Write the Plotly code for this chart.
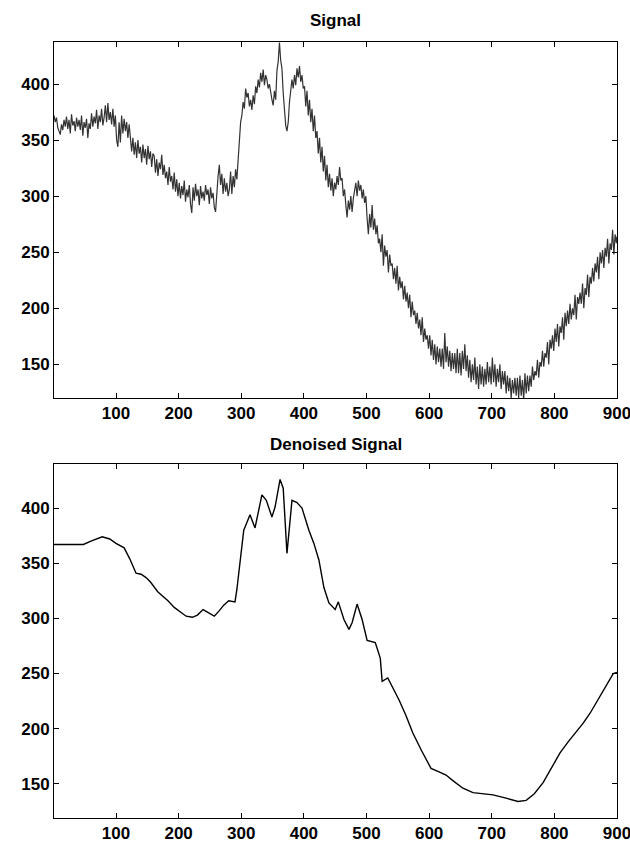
import plotly.graph_objects as go
from plotly.subplots import make_subplots

# ---------------- data ----------------
# noisy signal, every 2 samples (x = 1, 3, ..., 899) plus the last sample
signal_x = list(range(1, 900, 2)) + [900]
signal_y = [
    # 1 - 99
    372, 366, 370, 361, 358, 355, 364, 359, 368, 362,
    371, 360, 368, 356, 373, 363, 367, 358, 370, 362,
    368, 359, 372, 354, 366, 361, 369, 352, 365, 360,
    374, 362, 371, 365, 377, 360, 372, 366, 378, 363,
    370, 381, 366, 383, 368, 375, 364, 378, 362, 372,
    # 101 - 199
    350, 344, 366, 348, 372, 356, 369, 358, 366, 352,
    364, 348, 340, 352, 337, 348, 334, 350, 338, 344,
    330, 346, 334, 342, 328, 345, 333, 340, 326, 338,
    336, 321, 333, 318, 330, 324, 337, 319, 328, 316,
    322, 310, 326, 313, 318, 306, 321, 304, 315, 300,
    # 201 - 299
    312, 298, 309, 301, 314, 295, 306, 299, 310, 293,
    285, 308, 296, 311, 300, 306, 292, 309, 298, 304,
    296, 310, 301, 306, 293, 308, 298, 303, 290, 286,
    305, 318, 328, 310, 320, 302, 316, 304, 312, 300,
    306, 322, 302, 318, 308, 324, 315, 336, 352, 366,
    # 301 - 399
    372, 384, 378, 396, 388, 392, 380, 386, 377, 390,
    382, 398, 392, 404, 397, 410, 402, 413, 399, 408,
    404, 396, 400, 390, 386, 381, 394, 386, 412, 420,
    437, 421, 414, 392, 372, 363, 358, 366, 384, 394,
    404, 396, 408, 399, 414, 406, 416, 402, 408, 396,
    # 401 - 499
    398, 380, 394, 372, 386, 366, 378, 358, 372, 352,
    358, 338, 352, 330, 344, 322, 336, 314, 328, 308,
    320, 305, 316, 300, 312, 306, 318, 310, 326, 314,
    316, 300, 306, 292, 281, 296, 288, 300, 286, 298,
    304, 312, 300, 314, 305, 310, 298, 306, 294, 300,
    # 501 - 599
    280, 266, 284, 272, 292, 270, 280, 266, 274, 258,
    262, 250, 266, 238, 256, 246, 252, 232, 248, 238,
    240, 226, 236, 222, 238, 216, 228, 218, 224, 208,
    220, 206, 214, 200, 212, 192, 206, 194, 198, 186,
    196, 182, 190, 176, 192, 170, 182, 172, 176, 164,
    # 601 - 699
    176, 158, 172, 154, 168, 150, 166, 152, 164, 148,
    164, 146, 178, 152, 166, 148, 162, 144, 160, 146,
    160, 142, 164, 142, 160, 140, 162, 146, 168, 144,
    158, 138, 154, 134, 150, 136, 156, 132, 148, 128,
    150, 132, 148, 130, 146, 132, 152, 134, 148, 132,
    # 701 - 799
    156, 134, 150, 130, 146, 134, 150, 128, 144, 132,
    144, 124, 140, 126, 138, 120, 136, 124, 138, 122,
    138, 120, 140, 122, 136, 118, 142, 124, 140, 126,
    140, 130, 148, 136, 144, 140, 154, 138, 152, 148,
    162, 148, 160, 156, 170, 150, 172, 164, 176, 162,
    # 801 - 899
    182, 170, 186, 166, 184, 178, 192, 172, 196, 184,
    198, 186, 204, 190, 200, 194, 212, 190, 210, 204,
    214, 204, 222, 200, 218, 212, 230, 210, 228, 222,
    236, 224, 240, 232, 246, 226, 250, 240, 252, 236,
    254, 246, 262, 240, 258, 252, 270, 248, 266, 258,
    # 900
    264,
]

# denoised signal
denoised_x = [
    1, 10, 20, 30, 40, 48, 60, 70, 78, 90, 100, 113, 122, 132, 140, 148, 155, 167, 175, 183, 193,
    204, 212, 222, 230, 239, 248, 257, 265, 272, 280, 290, 293, 298, 304, 314, 322, 333, 340, 349, 354,
    362, 367, 373, 381, 389, 397, 408, 416, 424, 432, 440, 450, 455, 464, 472, 477, 485, 493, 501, 514,
    522, 525, 534, 543, 552, 563, 574, 588, 603, 615, 627, 640, 654, 670, 686, 702, 723, 742, 755, 768,
    782, 795, 809, 822, 835, 846, 857, 868, 878, 886, 894, 900,
]
denoised_y = [
    367, 367, 367, 367, 367, 367, 370, 372, 374, 372, 368, 364, 354, 341, 340, 337, 333, 324, 320, 316, 310,
    305, 302, 301, 303, 308, 305, 302, 307, 312, 316, 315, 326, 353, 380, 394, 382, 412, 407, 392, 401,
    426, 418, 359, 407, 405, 400, 380, 368, 353, 328, 314, 308, 315, 299, 290, 296, 313, 299, 280, 278,
    264, 243, 246, 236, 226, 212, 196, 180, 164, 161, 158, 152, 146, 142, 141, 140, 137, 134, 135, 141,
    151, 164, 178, 188, 197, 205, 214, 225, 235, 243, 250, 251,
]

x_ticks = [100, 200, 300, 400, 500, 600, 700, 800, 900]
y_ticks = [150, 200, 250, 300, 350, 400]
titles = ["Signal", "Denoised Signal"]

# ---------------- figure ----------------
W, H = 630, 848
ml, mr, mt, mb = 54, 13, 42, 30
ph = H - mt - mb

def fy(px):
    return (H - mb - px) / ph

fig = make_subplots(rows=2, cols=1)
fig.add_trace(go.Scatter(x=signal_x, y=signal_y, mode="lines",
                         line=dict(color="#333333", width=1.2), showlegend=False), row=1, col=1)
fig.add_trace(go.Scatter(x=denoised_x, y=denoised_y, mode="lines",
                         line=dict(color="#000000", width=1.4), showlegend=False), row=2, col=1)

tickfont = dict(family="Liberation Sans, Arial, sans-serif", size=17, color="#000", weight="bold")
axis_common = dict(showline=True, linecolor="#000", linewidth=1, mirror="ticks",
                   ticks="inside", ticklen=5, tickcolor="#000", tickwidth=1,
                   showgrid=False, zeroline=False, tickfont=tickfont,
                   ticklabeloverflow="allow", automargin=False)

fig.update_layout(
    width=W, height=H,
    margin=dict(l=ml, r=mr, t=mt, b=mb, autoexpand=False),
    paper_bgcolor="white", plot_bgcolor="white",
    xaxis=dict(domain=[0, 1], range=[1, 900.01], tickvals=x_ticks, **axis_common),
    xaxis2=dict(domain=[0, 1], range=[1, 900.01], tickvals=x_ticks, **axis_common),
    yaxis=dict(domain=[fy(398), 1], range=[120, 437.5], tickvals=y_ticks, **axis_common),
    yaxis2=dict(domain=[0, fy(464)], range=[119, 440], tickvals=y_ticks, **axis_common),
)

for t, py in zip(titles, [20, 445]):
    fig.add_annotation(text=t, xref="paper", yref="paper", x=0.5, y=fy(py),
                       xanchor="center", yanchor="middle", showarrow=False,
                       font=dict(family="Liberation Sans, Arial, sans-serif", size=17,
                                 color="#000", weight="bold"))

fig.write_html("out.html")
